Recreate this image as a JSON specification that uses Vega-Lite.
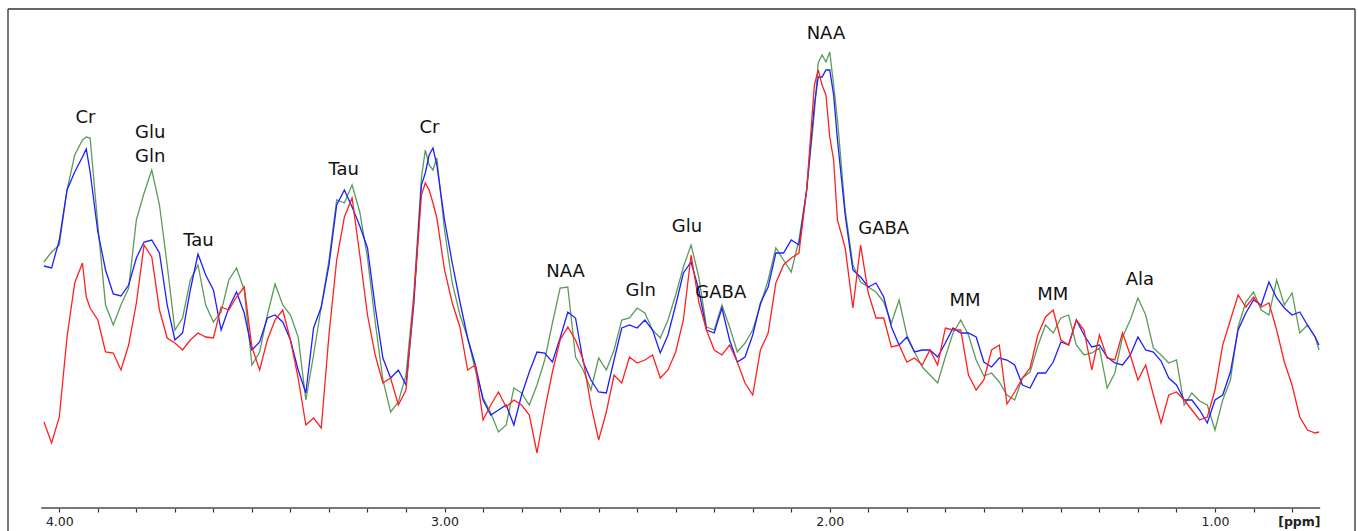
{
"$schema": "https://vega.github.io/schema/vega-lite/v6.json",
"width": 1347,
"height": 522,
"padding": {"left": 8, "right": 3, "top": 9, "bottom": 0},
"autosize": {"type": "none"},
"background": "white",
"config": {"view": {"stroke": null}},
"datasets": {
"spec": [
{"ppm":4.04,"g":269,"b":265,"r":109},
{"ppm":4.02,"g":279,"b":263,"r":88},
{"ppm":4.00,"g":286,"b":291,"r":114},
{"ppm":3.98,"g":341,"b":341,"r":194},
{"ppm":3.96,"g":376,"b":359,"r":248},
{"ppm":3.94,"g":391,"b":374,"r":268},
{"ppm":3.93,"g":394,"b":382,"r":234},
{"ppm":3.92,"g":393,"b":359,"r":223},
{"ppm":3.90,"g":306,"b":299,"r":211},
{"ppm":3.88,"g":226,"b":261,"r":179},
{"ppm":3.86,"g":206,"b":237,"r":178},
{"ppm":3.84,"g":226,"b":235,"r":161},
{"ppm":3.82,"g":243,"b":246,"r":186},
{"ppm":3.80,"g":311,"b":273,"r":228},
{"ppm":3.78,"g":338,"b":289,"r":286},
{"ppm":3.76,"g":361,"b":291,"r":274},
{"ppm":3.74,"g":326,"b":278,"r":221},
{"ppm":3.72,"g":266,"b":226,"r":193},
{"ppm":3.70,"g":201,"b":191,"r":188},
{"ppm":3.68,"g":213,"b":198,"r":181},
{"ppm":3.66,"g":251,"b":241,"r":191},
{"ppm":3.64,"g":266,"b":277,"r":198},
{"ppm":3.62,"g":226,"b":256,"r":194},
{"ppm":3.60,"g":209,"b":241,"r":193},
{"ppm":3.58,"g":219,"b":201,"r":224},
{"ppm":3.56,"g":251,"b":223,"r":221},
{"ppm":3.54,"g":263,"b":239,"r":234},
{"ppm":3.52,"g":241,"b":218,"r":244},
{"ppm":3.50,"g":166,"b":181,"r":184},
{"ppm":3.48,"g":179,"b":189,"r":161},
{"ppm":3.46,"g":216,"b":213,"r":191},
{"ppm":3.44,"g":247,"b":216,"r":211},
{"ppm":3.42,"g":226,"b":209,"r":221},
{"ppm":3.40,"g":216,"b":191,"r":191},
{"ppm":3.38,"g":194,"b":161,"r":153},
{"ppm":3.36,"g":131,"b":138,"r":106},
{"ppm":3.34,"g":176,"b":203,"r":113},
{"ppm":3.32,"g":224,"b":224,"r":103},
{"ppm":3.30,"g":271,"b":266,"r":196},
{"ppm":3.28,"g":331,"b":326,"r":271},
{"ppm":3.26,"g":328,"b":341,"r":314},
{"ppm":3.24,"g":346,"b":324,"r":333},
{"ppm":3.22,"g":319,"b":305,"r":276},
{"ppm":3.20,"g":273,"b":283,"r":216},
{"ppm":3.18,"g":209,"b":224,"r":176},
{"ppm":3.16,"g":151,"b":173,"r":148},
{"ppm":3.14,"g":119,"b":153,"r":153},
{"ppm":3.12,"g":129,"b":161,"r":126},
{"ppm":3.10,"g":156,"b":146,"r":141},
{"ppm":3.08,"g":236,"b":226,"r":231},
{"ppm":3.06,"g":353,"b":346,"r":336},
{"ppm":3.05,"g":381,"b":358,"r":348},
{"ppm":3.04,"g":366,"b":376,"r":341},
{"ppm":3.03,"g":361,"b":383,"r":328},
{"ppm":3.02,"g":373,"b":366,"r":313},
{"ppm":3.00,"g":301,"b":311,"r":261},
{"ppm":2.98,"g":248,"b":268,"r":228},
{"ppm":2.96,"g":216,"b":229,"r":204},
{"ppm":2.94,"g":193,"b":193,"r":161},
{"ppm":2.92,"g":161,"b":166,"r":166},
{"ppm":2.90,"g":133,"b":131,"r":111},
{"ppm":2.88,"g":118,"b":116,"r":126},
{"ppm":2.86,"g":99,"b":121,"r":139},
{"ppm":2.84,"g":106,"b":126,"r":124},
{"ppm":2.82,"g":143,"b":106,"r":131},
{"ppm":2.80,"g":138,"b":136,"r":126},
{"ppm":2.78,"g":126,"b":159,"r":116},
{"ppm":2.76,"g":146,"b":179,"r":78},
{"ppm":2.74,"g":171,"b":178,"r":121},
{"ppm":2.72,"g":208,"b":169,"r":159},
{"ppm":2.70,"g":243,"b":193,"r":191},
{"ppm":2.68,"g":244,"b":219,"r":204},
{"ppm":2.66,"g":174,"b":213,"r":191},
{"ppm":2.64,"g":161,"b":169,"r":171},
{"ppm":2.62,"g":141,"b":151,"r":126},
{"ppm":2.60,"g":173,"b":139,"r":91},
{"ppm":2.58,"g":161,"b":138,"r":119},
{"ppm":2.56,"g":181,"b":171,"r":156},
{"ppm":2.54,"g":211,"b":203,"r":148},
{"ppm":2.52,"g":213,"b":206,"r":174},
{"ppm":2.50,"g":223,"b":203,"r":168},
{"ppm":2.48,"g":218,"b":211,"r":171},
{"ppm":2.46,"g":201,"b":201,"r":176},
{"ppm":2.44,"g":193,"b":178,"r":153},
{"ppm":2.42,"g":211,"b":196,"r":161},
{"ppm":2.40,"g":236,"b":226,"r":179},
{"ppm":2.38,"g":264,"b":258,"r":211},
{"ppm":2.36,"g":286,"b":269,"r":276},
{"ppm":2.34,"g":254,"b":241,"r":229},
{"ppm":2.32,"g":204,"b":201,"r":201},
{"ppm":2.30,"g":201,"b":198,"r":181},
{"ppm":2.28,"g":226,"b":223,"r":176},
{"ppm":2.26,"g":204,"b":191,"r":186},
{"ppm":2.24,"g":179,"b":169,"r":169},
{"ppm":2.22,"g":188,"b":174,"r":148},
{"ppm":2.20,"g":201,"b":196,"r":136},
{"ppm":2.18,"g":226,"b":228,"r":181},
{"ppm":2.16,"g":251,"b":244,"r":198},
{"ppm":2.14,"g":283,"b":278,"r":248},
{"ppm":2.12,"g":271,"b":278,"r":266},
{"ppm":2.10,"g":259,"b":291,"r":273},
{"ppm":2.08,"g":291,"b":286,"r":278},
{"ppm":2.06,"g":341,"b":341,"r":341},
{"ppm":2.04,"g":418,"b":426,"r":446},
{"ppm":2.03,"g":468,"b":454,"r":461},
{"ppm":2.02,"g":476,"b":454,"r":446},
{"ppm":2.01,"g":469,"b":461,"r":436},
{"ppm":2.00,"g":479,"b":461,"r":394},
{"ppm":1.99,"g":446,"b":436,"r":371},
{"ppm":1.98,"g":411,"b":391,"r":311},
{"ppm":1.96,"g":321,"b":316,"r":283},
{"ppm":1.94,"g":266,"b":261,"r":223},
{"ppm":1.92,"g":249,"b":254,"r":286},
{"ppm":1.90,"g":244,"b":244,"r":238},
{"ppm":1.88,"g":239,"b":248,"r":213},
{"ppm":1.86,"g":229,"b":234,"r":213},
{"ppm":1.84,"g":208,"b":204,"r":184},
{"ppm":1.82,"g":231,"b":186,"r":186},
{"ppm":1.80,"g":196,"b":194,"r":169},
{"ppm":1.78,"g":179,"b":179,"r":173},
{"ppm":1.76,"g":164,"b":181,"r":166},
{"ppm":1.74,"g":156,"b":181,"r":181},
{"ppm":1.72,"g":148,"b":174,"r":166},
{"ppm":1.70,"g":174,"b":188,"r":203},
{"ppm":1.68,"g":198,"b":203,"r":201},
{"ppm":1.66,"g":211,"b":198,"r":201},
{"ppm":1.64,"g":196,"b":198,"r":156},
{"ppm":1.62,"g":171,"b":194,"r":141},
{"ppm":1.60,"g":155,"b":169,"r":151},
{"ppm":1.58,"g":158,"b":164,"r":181},
{"ppm":1.56,"g":149,"b":173,"r":186},
{"ppm":1.54,"g":136,"b":171,"r":127},
{"ppm":1.52,"g":131,"b":166,"r":139},
{"ppm":1.50,"g":153,"b":146,"r":153},
{"ppm":1.48,"g":159,"b":143,"r":163},
{"ppm":1.46,"g":185,"b":158,"r":196},
{"ppm":1.44,"g":206,"b":158,"r":214},
{"ppm":1.42,"g":198,"b":169,"r":221},
{"ppm":1.40,"g":213,"b":189,"r":191},
{"ppm":1.38,"g":216,"b":186,"r":186},
{"ppm":1.36,"g":186,"b":211,"r":211},
{"ppm":1.34,"g":176,"b":196,"r":201},
{"ppm":1.32,"g":178,"b":184,"r":161},
{"ppm":1.30,"g":183,"b":186,"r":196},
{"ppm":1.28,"g":143,"b":174,"r":173},
{"ppm":1.26,"g":158,"b":168,"r":171},
{"ppm":1.24,"g":194,"b":166,"r":198},
{"ppm":1.22,"g":211,"b":176,"r":176},
{"ppm":1.20,"g":233,"b":194,"r":151},
{"ppm":1.18,"g":216,"b":181,"r":166},
{"ppm":1.16,"g":183,"b":179,"r":136},
{"ppm":1.14,"g":176,"b":170,"r":108},
{"ppm":1.12,"g":168,"b":153,"r":136},
{"ppm":1.10,"g":171,"b":146,"r":139},
{"ppm":1.08,"g":126,"b":131,"r":131},
{"ppm":1.06,"g":138,"b":131,"r":121},
{"ppm":1.04,"g":130,"b":121,"r":111},
{"ppm":1.02,"g":126,"b":108,"r":114},
{"ppm":1.00,"g":101,"b":131,"r":141},
{"ppm":0.98,"g":131,"b":136,"r":186},
{"ppm":0.96,"g":151,"b":159,"r":211},
{"ppm":0.94,"g":204,"b":201,"r":236},
{"ppm":0.92,"g":229,"b":218,"r":224},
{"ppm":0.90,"g":239,"b":231,"r":234},
{"ppm":0.88,"g":221,"b":226,"r":224},
{"ppm":0.86,"g":216,"b":249,"r":228},
{"ppm":0.84,"g":251,"b":233,"r":201},
{"ppm":0.82,"g":226,"b":223,"r":169},
{"ppm":0.80,"g":238,"b":216,"r":146},
{"ppm":0.78,"g":198,"b":219,"r":114},
{"ppm":0.76,"g":206,"b":206,"r":101},
{"ppm":0.74,"g":194,"b":194,"r":98},
{"ppm":0.73,"g":181,"b":186,"r":99}
],
"labels": [
{"ppm":3.932,"v":413,"t":"Cr"},
{"ppm":3.764,"v":398,"t":"Glu"},
{"ppm":3.764,"v":374,"t":"Gln"},
{"ppm":3.639,"v":290,"t":"Tau"},
{"ppm":3.262,"v":361,"t":"Tau"},
{"ppm":3.039,"v":403,"t":"Cr"},
{"ppm":2.686,"v":259,"t":"NAA"},
{"ppm":2.491,"v":240,"t":"Gln"},
{"ppm":2.371,"v":304,"t":"Glu"},
{"ppm":2.283,"v":238,"t":"GABA"},
{"ppm":2.010,"v":497,"t":"NAA"},
{"ppm":1.860,"v":302,"t":"GABA"},
{"ppm":1.649,"v":230,"t":"MM"},
{"ppm":1.421,"v":236,"t":"MM"},
{"ppm":1.195,"v":251,"t":"Ala"}
],
"unit": [{"ppm":0.781,"v":9,"t":"[ppm]"}],
"sides": [{"ppm":4.1332,"v":0,"v2":522},{"ppm":0.6366,"v":0,"v2":522}],
"top": [{"ppm":4.1332,"ppm2":0.6366,"v":522}],
"baseline": [{"ppm":4.047,"ppm2":0.727,"v":23}]
},
"data": {"name": "spec"},
"encoding": {
"x": {"field": "ppm", "type": "quantitative",
"scale": {"domain": [0.6366, 4.1332], "reverse": true, "nice": false, "zero": false},
"axis": {
"values": [4.0,3.9,3.8,3.7,3.6,3.5,3.4,3.3,3.2,3.1,3.0,2.9,2.8,2.7,2.6,2.5,2.4,2.3,2.2,2.1,2.0,1.9,1.8,1.7,1.6,1.5,1.4,1.3,1.2,1.1,1.0,0.9,0.8],
"labelExpr": "abs(datum.value - round(datum.value)) < 0.001 ? format(datum.value, '.2f') : ''",
"domain": false, "grid": false, "tickSize": 4, "tickWidth": 1.2, "tickColor": "#333",
"offset": -23, "labelFont": "DejaVu Sans", "labelFontSize": 12.5, "labelColor": "#222",
"labelPadding": 3, "labelOverlap": false, "labelFlush": false, "title": null}
}
},
"layer": [
{"mark": {"type": "line", "color": "#5c9b5c", "strokeWidth": 1.3},
"encoding": {"y": {"field": "g", "type": "quantitative", "scale": {"domain": [0, 522], "nice": false, "zero": false}, "axis": null}}},
{"mark": {"type": "line", "color": "#1e1eff", "strokeWidth": 1.3},
"encoding": {"y": {"field": "b", "type": "quantitative", "scale": {"domain": [0, 522], "nice": false, "zero": false}, "axis": null}}},
{"mark": {"type": "line", "color": "#ff2020", "strokeWidth": 1.3},
"encoding": {"y": {"field": "r", "type": "quantitative", "scale": {"domain": [0, 522], "nice": false, "zero": false}, "axis": null}}},
{"data": {"name": "labels"},
"mark": {"type": "text", "font": "DejaVu Sans", "fontSize": 18, "color": "#111", "align": "center", "baseline": "middle"},
"encoding": {"y": {"field": "v", "type": "quantitative", "scale": {"domain": [0, 522], "nice": false, "zero": false}, "axis": null}, "text": {"field": "t"}}},
{"data": {"name": "unit"},
"mark": {"type": "text", "font": "DejaVu Sans", "fontSize": 12.5, "fontWeight": "bold", "color": "#222", "align": "center", "baseline": "middle"},
"encoding": {"y": {"field": "v", "type": "quantitative", "scale": {"domain": [0, 522], "nice": false, "zero": false}, "axis": null}, "text": {"field": "t"}}},
{"data": {"name": "baseline"},
"mark": {"type": "rule", "color": "#777", "strokeWidth": 2},
"encoding": {"x2": {"field": "ppm2"}, "y": {"field": "v", "type": "quantitative", "scale": {"domain": [0, 522], "nice": false, "zero": false}, "axis": null}}},
{"data": {"name": "sides"},
"mark": {"type": "rule", "color": "#777", "strokeWidth": 2},
"encoding": {"y": {"field": "v", "type": "quantitative", "scale": {"domain": [0, 522], "nice": false, "zero": false}, "axis": null}, "y2": {"field": "v2"}}},
{"data": {"name": "top"},
"mark": {"type": "rule", "color": "#333", "strokeWidth": 1.5},
"encoding": {"x2": {"field": "ppm2"}, "y": {"field": "v", "type": "quantitative", "scale": {"domain": [0, 522], "nice": false, "zero": false}, "axis": null}}}
]
}
